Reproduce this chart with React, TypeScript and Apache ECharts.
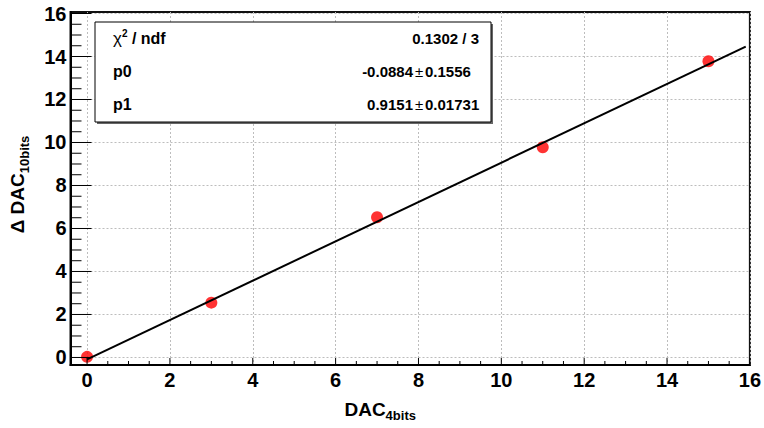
import React, { useEffect, useRef } from "react";
import * as echarts from "echarts";

const xValues = [0, 3, 7, 11, 15];
const yValues = [0.03, 2.55, 6.52, 9.78, 13.78];
const fitP0 = -0.0884;
const fitP1 = 0.9151;
const fitRange = [0, 15.9];
const majorTicks = [0, 2, 4, 6, 8, 10, 12, 14, 16];
const minorTicks = Array.from({ length: 33 }, (_, i) => i * 0.5).filter((v) => v % 2 !== 0);
const statsLabels = ["{chi|χ}{sup|2}{b| / ndf}", "{b|p0}", "{b|p1}"];
const chi2Text = "0.1302 / 3";
const paramValues = ["-0.0884", "0.9151"];
const paramErrors = ["0.1556", "0.01731"];
const xTitle = "{m|DAC}{s|4bits}";
const yTitle = "{m|Δ DAC}{s|10bits}";

const X_MIN = -0.4, X_MAX = 16, Y_MIN = -0.35, Y_MAX = 16.07;
const FONT = "'Liberation Sans', Arial, Helvetica, sans-serif";

function tickSeries(values: number[], dir: "x" | "y", len: number) {
  return {
    type: "custom",
    xAxisIndex: 0,
    yAxisIndex: 0,
    data: values.map((v) => (dir === "x" ? [v, Y_MIN] : [X_MIN, v])),
    encode: { x: 0, y: 1 },
    silent: true,
    z: 4,
    clip: false,
    renderItem: (_p: any, api: any) => {
      const pt = api.coord([api.value(0), api.value(1)]);
      const shape =
        dir === "x"
          ? { x1: pt[0], y1: pt[1], x2: pt[0], y2: pt[1] - len }
          : { x1: pt[0], y1: pt[1], x2: pt[0] + len, y2: pt[1] };
      return { type: "line", shape, style: { stroke: "#000", lineWidth: 1 } };
    },
  };
}

export default function App() {
  const ref = useRef<HTMLDivElement>(null);
  useEffect(() => {
    if (!ref.current) return;
    const chart = echarts.init(ref.current, undefined, { renderer: "svg" });
    const titleRich = {
      m: { fontSize: 19, fontWeight: "bold", fontFamily: FONT, color: "#000", lineHeight: 26, verticalAlign: "middle" },
      s: { fontSize: 13, fontWeight: "bold", fontFamily: FONT, color: "#000", lineHeight: 8, verticalAlign: "bottom" },
    };
    const statsRich = {
      b: { fontSize: 16, fontWeight: "bold", fontFamily: FONT, color: "#000", lineHeight: 20 },
      chi: { fontSize: 17, fontFamily: FONT, color: "#000", lineHeight: 20 },
      sup: { fontSize: 10, fontWeight: "bold", fontFamily: FONT, color: "#000", lineHeight: 10, verticalAlign: "top" },
    };
    const statFont = `bold 15px ${FONT}`;
    const rowY = [38.5, 71.5, 104.5];
    const graphics: any[] = [
      { type: "rect", shape: { x: 97, y: 24, width: 396, height: 100 }, style: { fill: "#666" }, z: 10 },
      { type: "rect", shape: { x: 95, y: 22, width: 396, height: 100 }, style: { fill: "#fff", stroke: "#000", lineWidth: 1 }, z: 11 },
    ];
    statsLabels.forEach((t, i) => {
      graphics.push({
        type: "text", x: 113, y: rowY[i], z: 12,
        style: { text: t, rich: statsRich, verticalAlign: "middle", align: "left" },
      });
    });
    graphics.push({
      type: "text", x: 479, y: rowY[0], z: 12,
      style: { text: chi2Text, font: statFont, fill: "#000", verticalAlign: "middle", align: "right" },
    });
    paramValues.forEach((v, i) => {
      const y = rowY[i + 1];
      graphics.push({ type: "text", x: 413, y, z: 12, style: { text: v, font: statFont, fill: "#000", verticalAlign: "middle", align: "right" } });
      graphics.push({ type: "text", x: 419, y, z: 12, style: { text: "±", font: `15px ${FONT}`, fill: "#000", verticalAlign: "middle", align: "center" } });
      graphics.push({ type: "text", x: 425, y, z: 12, style: { text: paramErrors[i], font: statFont, fill: "#000", verticalAlign: "middle", align: "left" } });
    });

    const labelStyle = { fontSize: 20, fontWeight: "bold", fontFamily: FONT, color: "#000" };
    const gridLine = { show: true, lineStyle: { color: "#bdbdbd", type: [2, 2] as any, width: 1 } };

    chart.setOption({
      animation: false,
      backgroundColor: "#fff",
      grid: { left: 67, right: 13, top: 12, bottom: 63, show: true, borderColor: "#111", borderWidth: 2, containLabel: false },
      xAxis: {
        type: "value", min: X_MIN, max: X_MAX, position: "bottom",
        axisLine: { show: true, onZero: false, lineStyle: { color: "#000", width: 2 } },
        axisTick: { show: false, customValues: majorTicks },
        axisLabel: { ...labelStyle, customValues: majorTicks, margin: 5 },
        splitLine: gridLine,
        name: xTitle, nameLocation: "middle", nameGap: 31,
        nameTextStyle: { rich: titleRich, padding: [0, 60, 0, 0] },
      },
      yAxis: {
        type: "value", min: Y_MIN, max: Y_MAX, position: "left",
        axisLine: { show: true, onZero: false, lineStyle: { color: "#000", width: 2 } },
        axisTick: { show: false, customValues: majorTicks },
        axisLabel: { ...labelStyle, customValues: majorTicks, margin: 4 },
        splitLine: gridLine,
        name: yTitle, nameLocation: "middle", nameRotate: 90, nameGap: 40,
        nameTextStyle: { rich: titleRich, padding: [0, 0, 0, 8] },
      },
      series: [
        tickSeries(majorTicks, "x", 7),
        tickSeries(minorTicks, "x", 4),
        tickSeries(majorTicks, "y", 21),
        tickSeries(minorTicks, "y", 11),
        {
          type: "scatter", xAxisIndex: 0, yAxisIndex: 0,
          data: xValues.map((x, i) => [x, yValues[i]]),
          symbol: "circle", symbolSize: 12,
          itemStyle: { color: "#ff0000" }, z: 2,
        },
        {
          type: "line", xAxisIndex: 0, yAxisIndex: 0,
          data: fitRange.map((x) => [x, fitP0 + fitP1 * x]),
          showSymbol: false, symbol: "none",
          lineStyle: { color: "#000", width: 2 }, z: 3,
        },
      ],
      graphic: graphics,
    });
    return () => chart.dispose();
  }, []);
  return <div ref={ref} style={{ position: "fixed", left: 0, top: 0, width: 764, height: 428 }} />;
}
